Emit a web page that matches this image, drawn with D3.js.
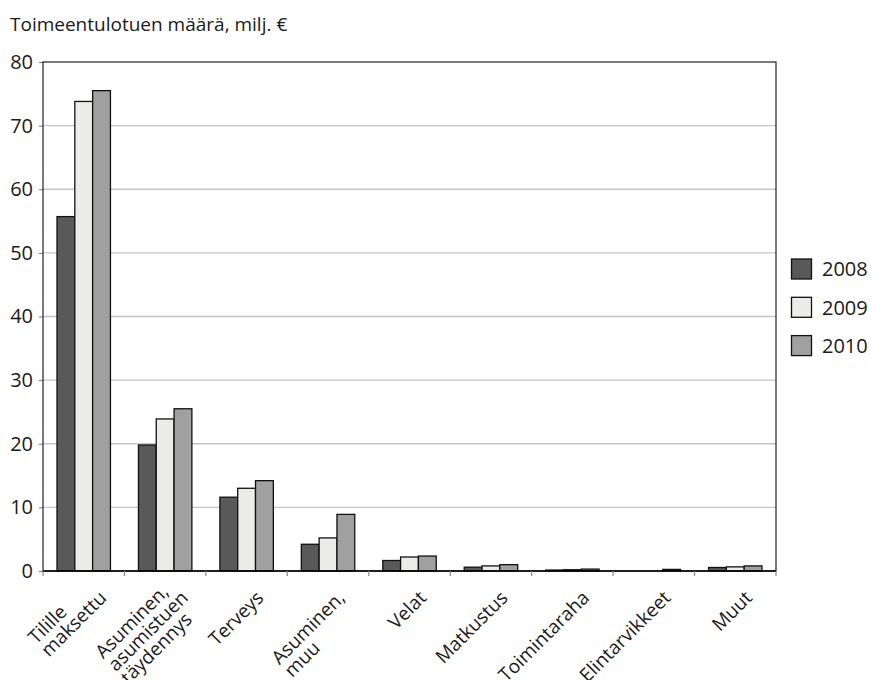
<!DOCTYPE html>
<html><head><meta charset="utf-8">
<script src="https://cdn.jsdelivr.net/npm/d3@7"></script>
<style>body{margin:0;background:#fff}svg{display:block}text{font-family:"Open Sans",sans-serif;fill:#1a1a1a}</style>
</head><body><svg id="c" width="871" height="680"></svg>
<script>
const categories = [["Tilille","maksettu"],["Asuminen,","asumistuen","täydennys"],["Terveys"],["Asuminen,","muu"],["Velat"],["Matkustus"],["Toimintaraha"],["Elintarvikkeet"],["Muut"]];
const years = ["2008","2009","2010"];
const v2008 = [55.7,19.8,11.6,4.2,1.65,0.6,0.15,0,0.55];
const v2009 = [73.8,23.9,13.0,5.2,2.2,0.8,0.2,0,0.65];
const v2010 = [75.5,25.5,14.2,8.9,2.35,1.0,0.3,0.25,0.8];
const yTicks = [0,10,20,30,40,50,60,70,80];
const title = "Toimeentulotuen määrä, milj. €";
const colors = ["#595959","#ebecea","#a0a0a0"];

const series = [v2008,v2009,v2010];
const svg = d3.select("#c");
const L=43,R=776,T=62,B=571;
const x = d3.scaleBand().domain(d3.range(categories.length)).range([L,R]).paddingInner(0).paddingOuter(0);
const xi = d3.scaleBand().domain(d3.range(3)).range([14, x.bandwidth()-14]);
const y = d3.scaleLinear().domain([0,80]).range([B,T]);

svg.append("text").attr("x",10).attr("y",31).attr("font-size",19).text(title);

// gridlines
svg.append("g").selectAll("line").data(yTicks.filter(d=>d>0&&d<80)).join("line")
  .attr("x1",L).attr("x2",R).attr("y1",d=>y(d)).attr("y2",d=>y(d))
  .attr("stroke","#c4c4c4").attr("stroke-width",1.3);

// y axis
const ya = svg.append("g").attr("transform",`translate(${L},0)`).call(d3.axisLeft(y).tickValues(yTicks).tickSize(4).tickPadding(6));
ya.select(".domain").remove();
ya.selectAll("line").attr("stroke","#777");
ya.selectAll("text").attr("font-size",20).attr("font-family","Open Sans").attr("fill","#1a1a1a");

// bars
series.forEach((s,si)=>{
  svg.append("g").selectAll("rect").data(s).join("rect")
   .attr("x",(d,i)=>x(i)+xi(si)).attr("width",xi.bandwidth())
   .attr("y",d=>y(d)).attr("height",d=>B-y(d))
   .attr("fill",colors[si]).attr("stroke","#111").attr("stroke-width",1.3)
   .attr("display",d=>d>0?null:"none");
});

// frame
svg.append("rect").attr("x",L).attr("y",T).attr("width",R-L).attr("height",B-T).attr("fill","none").attr("stroke","#222").attr("stroke-width",1.2);
svg.append("line").attr("x1",L).attr("x2",R).attr("y1",B).attr("y2",B).attr("stroke","#000").attr("stroke-width",1.6);

// x ticks at band boundaries
svg.append("g").selectAll("line").data(d3.range(categories.length+1)).join("line")
  .attr("x1",i=>L+i*x.bandwidth()).attr("x2",i=>L+i*x.bandwidth()).attr("y1",B).attr("y2",B+5)
  .attr("stroke","#888").attr("stroke-width",1.2);

// x labels: lines left-aligned, longest line's end placed near the category
const lh=18;
categories.forEach((lines,i)=>{
  const cx = x(i)+x.bandwidth()/2;
  const g = svg.append("g");
  const ts = lines.map(t=>g.append("text").attr("font-size",19).attr("text-anchor","start").text(t));
  const widths = ts.map(t=>t.node().getComputedTextLength());
  const W = d3.max(widths);
  const li = widths.indexOf(W);
  ts.forEach((t,k)=>t.attr("x",-W).attr("y",(k-li)*lh));
  g.attr("transform",`translate(${cx+18+6*li},${B+28}) rotate(-45)`);
});

// legend
years.forEach((yr,i)=>{
  const yy = 269 + i*38.3;
  svg.append("rect").attr("x",791.5).attr("y",yy-10).attr("width",20).attr("height",20)
    .attr("fill",colors[i]).attr("stroke","#111").attr("stroke-width",1.3);
  svg.append("text").attr("x",822).attr("y",yy).attr("dy","0.36em").attr("font-size",20).text(yr);
});
</script></body></html>
